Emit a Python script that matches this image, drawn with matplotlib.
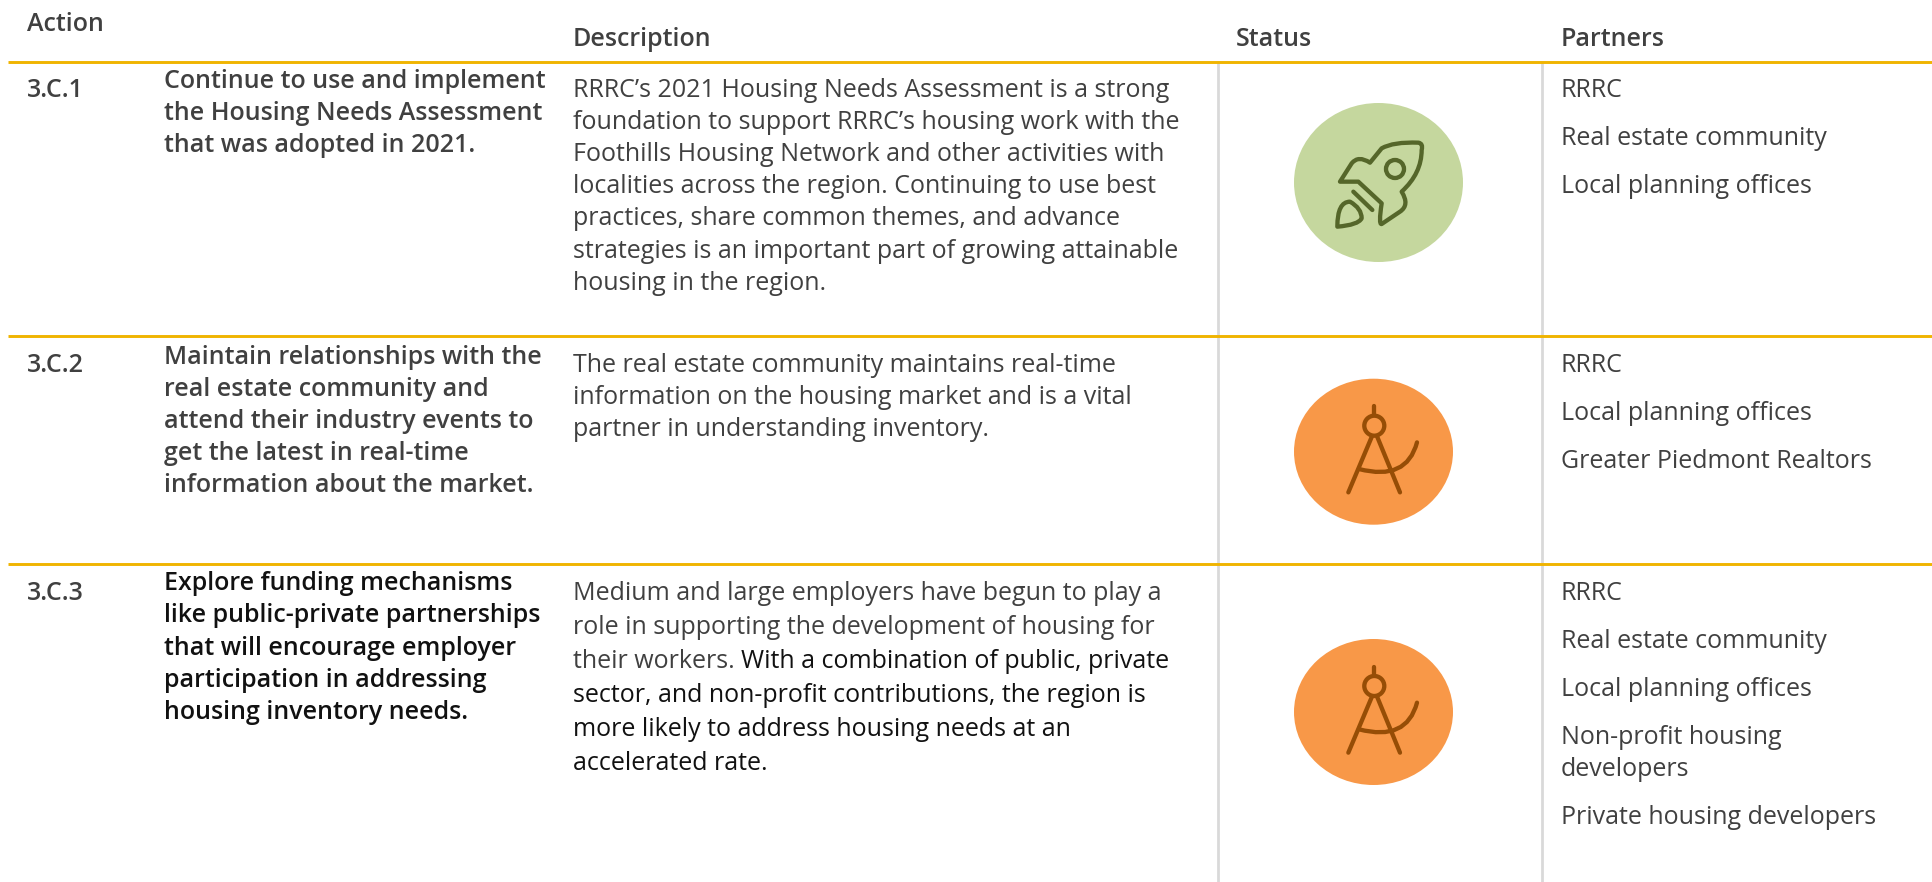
import matplotlib
matplotlib.use('Agg')
import matplotlib.pyplot as plt
from matplotlib.patches import Ellipse, Circle, PathPatch
from matplotlib.path import Path

plt.rcParams['font.family'] = ['Open Sans', 'DejaVu Sans']

headers = ['Action', 'Description', 'Status', 'Partners']
action_ids = ['3.C.1', '3.C.2', '3.C.3']
action_text = [
    ['Continue to use and implement', 'the Housing Needs Assessment', 'that was adopted in 2021.'],
    ['Maintain relationships with the', 'real estate community and', 'attend their industry events to',
     'get the latest in real-time', 'information about the market.'],
    ['Explore funding mechanisms', 'like public-private partnerships', 'that will encourage employer',
     'participation in addressing', 'housing inventory needs.'],
]
descriptions = [
    ['RRRC\u2019s 2021 Housing Needs Assessment is a strong',
     'foundation to support RRRC\u2019s housing work with the',
     'Foothills Housing Network and other activities with',
     'localities across the region. Continuing to use best',
     'practices, share common themes, and advance',
     'strategies is an important part of growing attainable',
     'housing in the region.'],
    ['The real estate community maintains real-time',
     'information on the housing market and is a vital',
     'partner in understanding inventory.'],
    ['Medium and large employers have begun to play a',
     'role in supporting the development of housing for',
     'their workers. |With a combination of public, private',
     'sector, and non-profit contributions, the region is',
     'more likely to address housing needs at an',
     'accelerated rate.'],
]
partners = [
    ['RRRC', 'Real estate community', 'Local planning offices'],
    ['RRRC', 'Local planning offices', 'Greater Piedmont Realtors'],
    ['RRRC', 'Real estate community', 'Local planning offices',
     'Non-profit housing\ndevelopers', 'Private housing developers'],
]

GOLD = '#F0B400'
GREY = '#D9D9D9'
TEXT = '#404040'
DARK = '#111111'
FS = 18

fig = plt.figure(figsize=(19.33, 8.82), dpi=100)
ax = fig.add_axes([0, 0, 1, 1])
ax.set_xlim(0, 1933)
ax.set_ylim(882, 0)
ax.axis('off')

# rules
for x in [1218, 1542]:
    ax.plot([x, x], [61, 882], color=GREY, lw=2, solid_capstyle='butt', zorder=1)
for y in [61.5, 336, 564]:
    ax.plot([8, 1933], [y, y], color=GOLD, lw=2.1, solid_capstyle='butt', zorder=2)

# headers
ax.text(27, 31, headers[0], fontsize=FS, weight=600, color=TEXT)
ax.text(573, 46, headers[1], fontsize=FS, weight=600, color=TEXT)
ax.text(1236, 46, headers[2], fontsize=FS, weight=600, color=TEXT)
ax.text(1561, 46, headers[3], fontsize=FS, weight=600, color=TEXT)

id_base = [97, 372, 600]
bold_base = [88, 364, 590]
bold_step = [32.1, 32.1, 32.3]
desc_step = [32.1, 32.1, 34.1]
colors_bold = [TEXT, TEXT, DARK]
renderer = fig.canvas.get_renderer()
for i in range(3):
    ax.text(27, id_base[i], action_ids[i], fontsize=FS, weight=600, color=TEXT)
    for j, s in enumerate(action_text[i]):
        ax.text(164, bold_base[i] + j * bold_step[i], s, fontsize=FS, weight=600, color=colors_bold[i])
    dark = False
    for j, s in enumerate(descriptions[i]):
        y = id_base[i] + j * desc_step[i]
        x = 573
        # a | marks where the colour of the text changes
        for k, part in enumerate(s.split('|')):
            if k > 0:
                dark = True
            t = ax.text(x, y, part, fontsize=FS, color=DARK if dark else TEXT)
            x += t.get_window_extent(renderer).width
    y = id_base[i]
    for s in partners[i]:
        for part in s.split('\n'):
            ax.text(1561, y, part, fontsize=FS, color=TEXT)
            y += 32
        y += 16


def P(verts, codes):
    return Path([(1250 + a / 3, 130 + b / 3) for a, b in verts], codes)


# rocket icon
M, L, C3, Z = Path.MOVETO, Path.LINETO, Path.CURVE3, Path.CLOSEPOLY
ax.add_patch(Ellipse((1378.5, 182.5), 169, 159, fc='#C5D79E', ec='none', zorder=3))
rk = '#55662A'
body = P([(270, 155), (305, 100), (325, 75), (360, 98), (395, 55), (430, 35), (505, 38),
          (520, 40), (515, 60), (515, 130), (455, 185), (480, 225), (450, 245), (395, 282),
          (385, 285), (395, 220), (325, 155), (270, 155), (270, 155)],
         [M, L, C3, C3, L, C3, C3, C3, C3, C3, C3, C3, C3, L, C3, C3, L, L, Z])
ax.add_patch(PathPatch(body, fc='none', ec=rk, lw=3.1, joinstyle='round', zorder=4))
ax.add_patch(Circle((1250 + 435 / 3, 130 + 117 / 3), 9, fc='none', ec=rk, lw=3.1, zorder=4))
ax.plot([1250 + 310 / 3, 1250 + 367 / 3], [130 + 185 / 3, 130 + 240 / 3], color=rk, lw=3.1,
        solid_capstyle='round', zorder=4)
flame = P([(262, 290), (262, 215), (300, 215), (335, 235), (335, 265), (325, 285), (262, 290), (262, 290)],
          [M, C3, C3, C3, C3, C3, C3, Z])
ax.add_patch(PathPatch(flame, fc='none', ec=rk, lw=3.1, joinstyle='round', zorder=4))

# compass icon, twice
br = '#964D06'
for dy in [-260.3, 0]:
    ax.add_patch(Ellipse((1373.5, 712 + dy), 159, 146, fc='#F89848', ec='none', zorder=3))
    ax.add_patch(Circle((1374.3, 686 + dy), 10, fc='none', ec=br, lw=3.1, zorder=4))
    for (a, b), (c, d) in [((583, 380), (583, 405)), ((575, 472), (505, 638)), ((592, 472), (660, 638))]:
        ax.plot([1180 + a / 3, 1180 + c / 3], [540 + b / 3 + dy, 540 + d / 3 + dy], color=br, lw=3.1,
                solid_capstyle='round', zorder=4)
    arc = Path([(1180 + a / 3, 540 + b / 3 + dy) for a, b in [(537, 568), (680, 605), (711, 488)]], [M, C3, C3])
    ax.add_patch(PathPatch(arc, fc='none', ec=br, lw=3.1, capstyle='round', zorder=4))

fig.savefig('out.png', dpi=100)
